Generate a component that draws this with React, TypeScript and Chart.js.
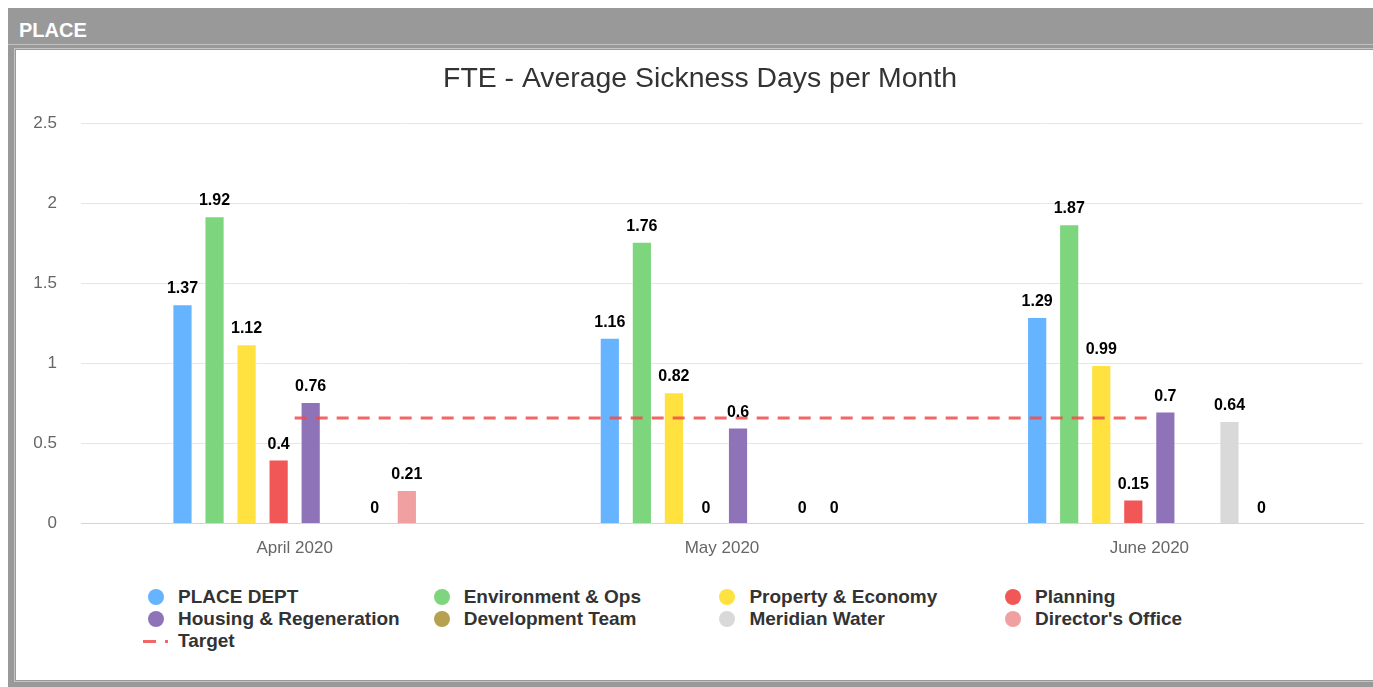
import React, { useEffect, useRef } from "react";
import { Chart, registerables } from "chart.js";

Chart.register(...registerables);

const months = ["April 2020", "May 2020", "June 2020"];
const seriesNames = [
  "PLACE DEPT",
  "Environment & Ops",
  "Property & Economy",
  "Planning",
  "Housing & Regeneration",
  "Development Team",
  "Meridian Water",
  "Director's Office",
];
const seriesColors = [
  "#66b3ff",
  "#7dd67d",
  "#ffe23f",
  "#f25757",
  "#8e73b9",
  "#b5a150",
  "#d9d9d9",
  "#f0a0a0",
];
const placeDept = [1.37, 1.16, 1.29];
const envOps = [1.92, 1.76, 1.87];
const propertyEconomy = [1.12, 0.82, 0.99];
const planning = [0.4, 0, 0.15];
const housingRegen = [0.76, 0.6, 0.7];
const developmentTeam = [null, null, null];
const meridianWater = [0, 0, 0.64];
const directorsOffice = [0.21, 0, 0];
const seriesValues = [
  placeDept,
  envOps,
  propertyEconomy,
  planning,
  housingRegen,
  developmentTeam,
  meridianWater,
  directorsOffice,
];
const targetName = "Target";
const targetValues = [0.66, 0.66, 0.66];
const targetColor = "rgba(240,75,75,0.85)";
const yTicks = [0, 0.5, 1, 1.5, 2, 2.5];

const FONT = '"Liberation Sans", Arial, Helvetica, sans-serif';

const valueLabels = {
  id: "valueLabels",
  afterDatasetsDraw(chart: any) {
    const ctx = chart.ctx;
    ctx.save();
    ctx.font = `bold 16px ${FONT}`;
    ctx.fillStyle = "#000";
    ctx.textAlign = "center";
    ctx.textBaseline = "alphabetic";
    chart.data.datasets.forEach((ds: any, i: number) => {
      if (ds.type === "line") return;
      const meta = chart.getDatasetMeta(i);
      meta.data.forEach((el: any, j: number) => {
        const v = ds.data[j];
        if (v === null || v === undefined) return;
        ctx.fillText(String(v), el.x, el.y - 11);
      });
    });
    ctx.restore();
  },
};

export default function App() {
  const ref = useRef<HTMLCanvasElement | null>(null);

  useEffect(() => {
    if (!ref.current) return;
    const datasets: any[] = seriesNames.map((name, i) => ({
      type: "bar",
      label: name,
      data: seriesValues[i],
      backgroundColor: seriesColors[i],
      borderColor: "rgba(255,255,255,0.45)",
      borderWidth: 1,
      categoryPercentage: 0.6,
      barPercentage: 0.63,
      order: 1,
    }));
    datasets.push({
      type: "line",
      label: targetName,
      data: targetValues,
      borderColor: targetColor,
      backgroundColor: targetColor,
      borderDash: [12, 9],
      borderWidth: 3,
      pointRadius: 0,
      fill: false,
      order: 0,
    });
    const chart = new Chart(ref.current, {
      type: "bar",
      data: { labels: months, datasets },
      options: {
        responsive: false,
        animation: false,
        devicePixelRatio: 1,
        layout: { padding: { left: 21, right: 21, top: 0, bottom: 12 } },
        plugins: {
          legend: { display: false },
          tooltip: { enabled: false },
          title: {
            display: true,
            text: "FTE - Average Sickness Days per Month",
            color: "#333333",
            font: { family: FONT, size: 28.4, weight: "normal" },
            padding: { top: 12, bottom: 27.2 },
          },
        },
        scales: {
          x: {
            grid: { display: false, drawTicks: false },
            border: { display: true, color: "#ccd6eb", width: 1 },
            ticks: {
              color: "#666666",
              font: { family: FONT, size: 17 },
              padding: 15,
            },
          },
          y: {
            min: 0,
            max: 2.5,
            afterFit(scale: any) {
              scale.width = 44;
              // let tick labels extend slightly beyond the axis box
              scale._computeLabelArea = () => undefined;
            },
            afterBuildTicks(scale: any) {
              scale.ticks = yTicks.map((v) => ({ value: v }));
            },
            grid: { color: "#e6e6e6", drawTicks: false, lineWidth: 1 },
            border: { display: false },
            ticks: {
              color: "#666666",
              font: { family: FONT, size: 17 },
              padding: 24,
              callback: (v: any) => String(v),
            },
          },
        },
      },
      plugins: [valueLabels],
    });
    return () => chart.destroy();
  }, []);

  const legendItems = [
    ...seriesNames.map((n, i) => ({ name: n, color: seriesColors[i], line: false })),
    { name: targetName, color: targetColor, line: true },
  ];

  return (
    <div
      style={{
        position: "absolute",
        left: 8,
        top: 8,
        right: 0,
        bottom: 0,
        background: "#999999",
        overflow: "hidden",
        fontFamily: FONT,
      }}
    >
      <div
        style={{
          position: "absolute",
          left: 11,
          top: 11.6,
          lineHeight: "20px",
          fontSize: 20,
          fontWeight: "bold",
          color: "#ffffff",
        }}
      >
        PLACE
      </div>
      <div
        style={{
          position: "absolute",
          left: 0,
          right: 0,
          top: 36,
          height: 1,
          background: "#c2c2c2",
        }}
      />
      <div
        style={{
          position: "absolute",
          left: 8,
          top: 42,
          right: 0,
          bottom: 7,
          background: "#ffffff",
          boxShadow: "0 0 0 1px #999999, 0 0 0 2px #c4c4c4",
        }}
      >
        <div style={{ position: "absolute", inset: 0, overflow: "hidden" }}>
          <canvas
            ref={ref}
            width={1368}
            height={536}
            style={{ position: "absolute", left: 0, top: 0, width: 1368, height: 536 }}
          />
          {legendItems.map((it, i) => {
            const col = i % 4;
            const row = Math.floor(i / 4);
            const textLeft = 162 + col * 285.7;
            const top = 536 + row * 22;
            return (
              <div
                key={it.name}
                style={{
                  position: "absolute",
                  left: textLeft - 35,
                  top,
                  height: 22,
                  display: "flex",
                  alignItems: "center",
                  whiteSpace: "nowrap",
                }}
              >
                <div style={{ width: 35, height: 22, position: "relative" }}>
                  {it.line ? (
                    <svg
                      width={30}
                      height={22}
                      style={{ position: "absolute", left: 0, top: 0 }}
                    >
                      <line
                        x1={0}
                        y1={11.5}
                        x2={25}
                        y2={11.5}
                        stroke={it.color}
                        strokeWidth={3}
                        strokeDasharray="13 9"
                      />
                    </svg>
                  ) : (
                    <div
                      style={{
                        position: "absolute",
                        left: 5,
                        top: 3,
                        width: 16,
                        height: 16,
                        borderRadius: "50%",
                        background: it.color,
                      }}
                    />
                  )}
                </div>
                <span
                  style={{
                    fontSize: 19,
                    fontWeight: "bold",
                    color: "#333333",
                    lineHeight: "22px",
                  }}
                >
                  {it.name}
                </span>
              </div>
            );
          })}
        </div>
      </div>
    </div>
  );
}
